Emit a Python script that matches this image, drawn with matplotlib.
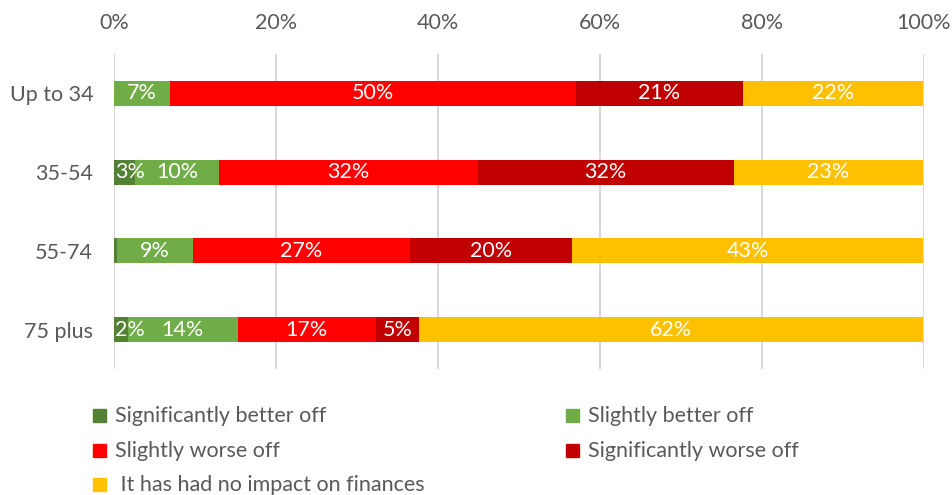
import matplotlib.pyplot as plt
from matplotlib.patches import Rectangle
import numpy as np

# age groups and answer shares (%)
groups = ['Up to 34', '35-54', '55-74', '75 plus']
sig_better = [0.0, 2.6, 0.4, 1.7]
slight_better = [6.9, 10.4, 9.4, 13.6]
slight_worse = [50.1, 31.9, 26.7, 17.0]
sig_worse = [20.6, 31.6, 20.1, 5.4]
no_impact = [22.3, 23.4, 43.3, 62.2]

series_names = ['Significantly better off', 'Slightly better off',
                'Slightly worse off', 'Significantly worse off',
                ' It has had no impact on finances']
series_colors = ['#548235', '#70AD47', '#FF0000', '#C00000', '#FFC000']
x_ticks = [0, 20, 40, 60, 80, 100]

plt.rcParams['font.family'] = ['Lato', 'DejaVu Sans']
text_grey = '#595959'
fs = 15.5

fig = plt.figure(figsize=(9.53, 4.95), dpi=100)
ax = fig.add_axes([0.1196, 0.2545, 0.85, 0.6364])

series = [sig_better, slight_better, slight_worse, sig_worse, no_impact]
y = np.arange(len(groups))
left = np.zeros(len(groups))
for vals, name, col in zip(series, series_names, series_colors):
    vals = np.array(vals)
    bars = ax.barh(y, vals, left=left, height=0.32, color=col, label=name, zorder=3)
    for b, v in zip(bars, vals):
        if v < 1:
            continue
        cx = b.get_x() + b.get_width() / 2
        cy = b.get_y() + b.get_height() / 2
        if b.get_x() == 0 and b.get_width() < 3.5:
            # tiny first segment: Excel keeps the label inside the plot
            ax.text(0.1, cy, f'{round(v)}%', ha='left', va='center',
                    color='white', fontsize=fs, zorder=4)
        else:
            ax.text(cx, cy, f'{round(v)}%', ha='center', va='center',
                    color='white', fontsize=fs, zorder=4)
    left += vals

ax.set_xlim(0, 100)
ax.set_ylim(len(groups) - 0.5, -0.5)
ax.set_yticks(y)
ax.set_yticklabels(groups, fontsize=fs, color=text_grey)
ax.set_xticks(x_ticks)
ax.set_xticklabels([f'{t}%' for t in x_ticks], fontsize=fs, color=text_grey)
ax.xaxis.tick_top()
ax.tick_params(axis='both', length=0)
ax.tick_params(axis='x', pad=15)
ax.tick_params(axis='y', pad=15)
ax.grid(axis='x', color='#D9D9D9', linewidth=1.5, zorder=0)
for s in ax.spines.values():
    s.set_visible(False)

# legend drawn by hand, two per row like the Excel chart
leg_x = [0.0976, 0.5935]
leg_y = [0.1596, 0.0889, 0.0202]
for i, (name, col) in enumerate(zip(series_names, series_colors)):
    cx = leg_x[i % 2]
    cy = leg_y[i // 2]
    fig.patches.append(Rectangle((cx, cy - 0.013), 0.0136, 0.0262, color=col,
                                 transform=fig.transFigure, figure=fig))
    fig.text(cx + 0.0231, cy, name, ha='left', va='center', fontsize=fs, color=text_grey)

fig.savefig('out.png', dpi=100)
